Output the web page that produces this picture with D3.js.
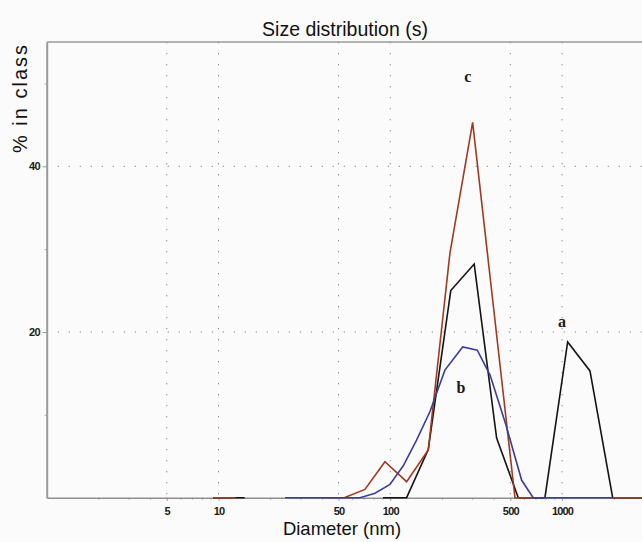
<!DOCTYPE html>
<html>
<head>
<meta charset="utf-8">
<script src="https://cdn.jsdelivr.net/npm/d3@7"></script>
<style>
  body { margin: 0; background: #fbfbfb; }
  svg { display: block; }
</style>
</head>
<body>
<div id="chart"></div>
<script>
// diameters (nm) and % in class; null = break in the trace
const sizesA = [9.3, 14.2, null, 90.7, 124.5, 166.4, 225, 308, 416, 556, 795, 1078, 1454, 1971, 2920]
const pctA   = [0,   0,    null, 0,    0,     5.8,   25.0, 28.2, 7.2, 0,  0,   18.8, 15.3, 0,    0]

const sizesB = [24.4, 66.6, 81.5, 99.6, 119, 142.5, 170.3, 208, 264, 321, 381, 471, 582, 679, 1971]
const pctB   = [0,    0,    0.53, 1.6,  3.85, 6.97, 10.4,  15.4, 18.2, 17.8, 14.8, 8.8, 2.1, 0, 0]

const sizesC = [9.3, 12.6, null, 40.6, 54.0, 71.2, 93.1, 124.5, 166.4, 222.6, 301.7, 532, 690, null, 1971, 2920]
const pctC   = [0,   0,    null, 0,    0,    1.0,  4.35, 1.93,  5.76,  29.55, 45.3,  0,   0,   null, 0,    0]

const majorTicks = [5, 10, 50, 100, 500, 1000]
const yTicks = [20, 40]
const yMinorTicks = [10, 30, 50]

const curveLabels = ['a', 'b', 'c']
const labelSizes = [1000, 258, 283]
const labelPcts = [20.6, 12.6, 50.2]

const w = 642, h = 542
const margin = {top: 42, right: 0, bottom: 44.3, left: 46.7}
const width = w - margin.left - margin.right
const height = h - margin.top - margin.bottom

const x = d3.scaleLog()
  .domain([1, 2920])
  .range([0, width])

const y = d3.scaleLinear()
  .domain([0, 55])
  .range([height, 0])

const svg = d3.select('#chart').append('svg')
  .attr('width', w)
  .attr('height', h)

const chart = svg.append('g')
  .attr('transform', 'translate(' + margin.left + ',' + margin.top + ')')

// dotted grid
chart.append('g').selectAll('line')
  .data(majorTicks)
  .enter()
  .append('line')
  .attr('x1', d => x(d)).attr('x2', d => x(d))
  .attr('y1', 0).attr('y2', height)
  .attr('stroke', '#8a8a8a')
  .attr('stroke-width', 1)
  .attr('stroke-dasharray', '1.3,9.7')

chart.append('g').selectAll('line')
  .data(yTicks)
  .enter()
  .append('line')
  .attr('x1', 0).attr('x2', width)
  .attr('y1', d => y(d)).attr('y2', d => y(d))
  .attr('stroke', '#8a8a8a')
  .attr('stroke-width', 1)
  .attr('stroke-dasharray', '1.3,9.7')

// frame top
chart.append('line')
  .attr('x1', 0).attr('x2', width)
  .attr('y1', 0).attr('y2', 0)
  .attr('stroke', '#9a9a9a')
  .attr('stroke-width', 1.5)

// minor x ticks (every integer step of each decade)
const minorX = []
for (let p = 1; p <= 1000; p *= 10) {
  for (let k = 2; k <= 9; k++) {
    if (p * k < 2920 && majorTicks.indexOf(p * k) < 0) minorX.push(p * k)
  }
}

chart.append('g')
  .attr('transform', 'translate(0,' + height + ')')
  .call(d3.axisBottom(x).tickValues(minorX).tickSize(2).tickFormat(''))
  .call(g => g.select('.domain').remove())
  .selectAll('line').attr('stroke', '#9a9a9a')

const xAxis = chart.append('g')
  .attr('transform', 'translate(0,' + height + ')')
  .call(d3.axisBottom(x)
    .tickValues(majorTicks)
    .tickSize(3)
    .tickSizeOuter(0)
    .tickPadding(7)
    .tickFormat(d3.format('d')))

xAxis.select('.domain').attr('stroke', '#8f8f8f').attr('stroke-width', 1.6)
xAxis.selectAll('.tick line').attr('stroke', '#8f8f8f')
xAxis.selectAll('text')
  .attr('fill', '#1a1a1a')
  .style('font-family', '"Liberation Sans", Arial, sans-serif')
  .style('font-size', '11px')
  .style('font-weight', 'bold')
  .style('letter-spacing', '-0.8px')

chart.append('g')
  .call(d3.axisLeft(y).tickValues(yMinorTicks).tickSize(2).tickFormat(''))
  .call(g => g.select('.domain').remove())
  .selectAll('line').attr('stroke', '#aaa')

const yAxis = chart.append('g')
  .call(d3.axisLeft(y)
    .tickValues(yTicks)
    .tickSize(4)
    .tickSizeOuter(0)
    .tickPadding(3))

yAxis.select('.domain').attr('stroke', '#9a9a9a').attr('stroke-width', 2)
yAxis.selectAll('.tick line').attr('stroke', '#9a9a9a')
yAxis.selectAll('text')
  .attr('fill', '#1a1a1a')
  .style('font-family', '"Liberation Sans", Arial, sans-serif')
  .style('font-size', '11px')
  .style('font-weight', 'bold')
  .style('letter-spacing', '-0.8px')

// curves
const series = [
  {sizes: sizesA, pct: pctA, color: '#141414'},
  {sizes: sizesB, pct: pctB, color: '#3b3f98'},
  {sizes: sizesC, pct: pctC, color: '#a33a1f'}
]

const line = d3.line()
  .defined(d => d[1] != null)
  .x(d => x(d[0]))
  .y(d => y(d[1]))

const drawOrder = [0, 2, 1]
drawOrder.forEach(function(i) {
  const s = series[i]
  chart.append('path')
    .datum(s.sizes.map((v, j) => [v, s.pct[j]]))
    .attr('fill', 'none')
    .attr('stroke', s.color)
    .attr('stroke-width', 1.6)
    .attr('stroke-linejoin', 'miter')
    .attr('d', line)
})

chart.append('g').selectAll('text')
  .data(curveLabels)
  .enter()
  .append('text')
  .attr('x', (d, i) => x(labelSizes[i]))
  .attr('y', (d, i) => y(labelPcts[i]))
  .attr('text-anchor', 'middle')
  .attr('fill', '#1a1a1a')
  .style('font-family', '"Liberation Serif", "Times New Roman", serif')
  .style('font-size', '16px')
  .style('font-weight', 'bold')
  .text(d => d)

// titles
svg.append('text')
  .attr('x', 345)
  .attr('y', 36)
  .attr('text-anchor', 'middle')
  .attr('fill', '#111')
  .style('font-family', '"Liberation Sans", Arial, sans-serif')
  .style('font-size', '19.5px')
  .text('Size distribution (s)')

svg.append('text')
  .attr('x', 342)
  .attr('y', 535)
  .attr('text-anchor', 'middle')
  .attr('fill', '#111')
  .style('font-family', '"Liberation Sans", Arial, sans-serif')
  .style('font-size', '18.5px')
  .text('Diameter (nm)')

svg.append('text')
  .attr('transform', 'translate(27,98) rotate(-90)')
  .attr('text-anchor', 'middle')
  .attr('fill', '#111')
  .style('font-family', '"Liberation Sans", Arial, sans-serif')
  .style('font-size', '20px')
  .style('letter-spacing', '2px')
  .text('% in class')
</script>
</body>
</html>
